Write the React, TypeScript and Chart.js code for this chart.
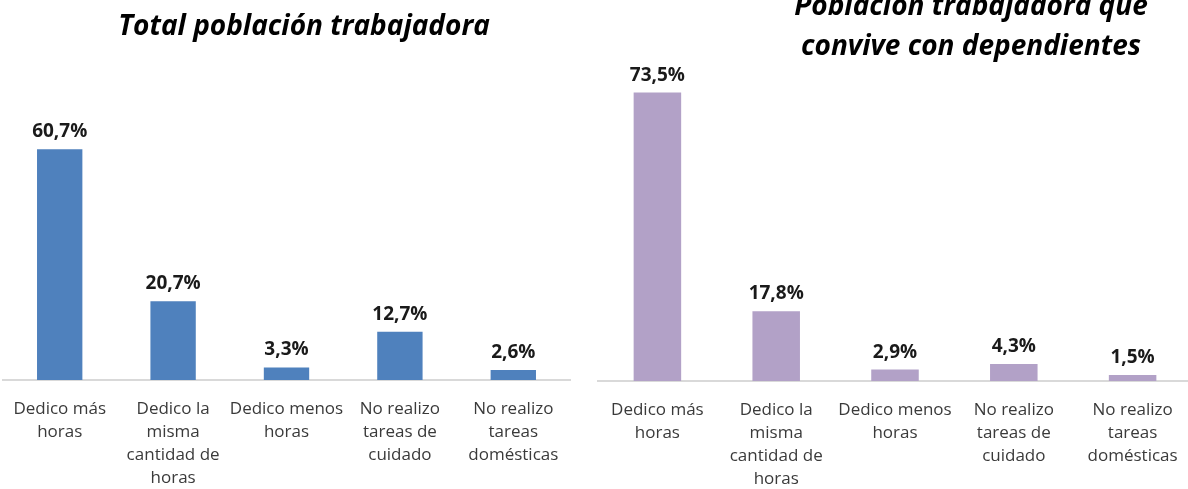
import React, { useEffect, useRef } from "react";
import { Chart, registerables } from "chart.js";

Chart.register(...registerables);

const categories: string[][] = [
  ["Dedico más", "horas"],
  ["Dedico la", "misma", "cantidad de", "horas"],
  ["Dedico menos", "horas"],
  ["No realizo", "tareas de", "cuidado"],
  ["No realizo", "tareas", "domésticas"],
];
const totalValues = [60.7, 20.7, 3.3, 12.7, 2.6];
const dependientesValues = [73.5, 17.8, 2.9, 4.3, 1.5];
const leftTitle = ["Total población trabajadora"];
const rightTitle = ["Población trabajadora que", "convive con dependientes"];
const leftColor = "#4f81bd";
const rightColor = "#b2a1c7";

const FONT = "'Open Sans', 'Liberation Sans', sans-serif";

const fmt = (v: number) => v.toFixed(1).replace(".", ",") + "%";

const valueLabels = {
  id: "valueLabels",
  afterDatasetsDraw(chart: any) {
    const ctx = chart.ctx;
    const meta = chart.getDatasetMeta(0);
    const data = chart.data.datasets[0].data as number[];
    ctx.save();
    ctx.font = `bold 19px ${FONT}`;
    ctx.fillStyle = "#1a1a1a";
    ctx.textAlign = "center";
    ctx.textBaseline = "alphabetic";
    meta.data.forEach((bar: any, i: number) => {
      ctx.fillText(fmt(data[i]), bar.x, bar.y - 12);
    });
    ctx.restore();
  },
};

const customTitle = {
  id: "customTitle",
  afterDraw(chart: any, _args: any, opts: any) {
    if (!opts || !opts.lines) return;
    const ctx = chart.ctx;
    ctx.save();
    ctx.font = `italic bold ${opts.size}px ${FONT}`;
    ctx.fillStyle = "#000000";
    ctx.textAlign = "center";
    ctx.textBaseline = "alphabetic";
    (opts.lines as string[]).forEach((line, i) => {
      ctx.fillText(line, opts.x, opts.y + i * opts.lineHeight);
    });
    ctx.restore();
  },
};

type PanelProps = {
  values: number[];
  color: string;
  title: string[];
  left: number;
  width: number;
  padLeft: number;
  padRight: number;
  padTop: number;
  axisHeight: number;
  titleX: number;
  titleY: number;
  max: number;
};

function Panel(p: PanelProps) {
  const ref = useRef<HTMLCanvasElement | null>(null);
  useEffect(() => {
    if (!ref.current) return;
    const chart = new Chart(ref.current, {
      type: "bar",
      data: {
        labels: categories,
        datasets: [
          {
            data: p.values,
            backgroundColor: p.color,
            borderWidth: 0,
            barPercentage: 0.4,
            categoryPercentage: 1.0,
          },
        ],
      },
      options: {
        animation: false,
        responsive: false,
        maintainAspectRatio: false,
        layout: { padding: { top: p.padTop, left: p.padLeft, right: p.padRight, bottom: 0 } },
        plugins: {
          legend: { display: false },
          tooltip: { enabled: false },
          title: { display: false },
          customTitle: { lines: p.title, x: p.titleX, y: p.titleY, size: 28, lineHeight: 40 },
        } as any,
        scales: {
          x: {
            grid: { display: false, drawTicks: false },
            border: { display: true, color: "#d9d9d9", width: 2 },
            ticks: {
              color: "#3a3a3a",
              font: { family: FONT, size: 17, lineHeight: 1.35 },
              padding: 18,
              maxRotation: 0,
              autoSkip: false,
            },
            afterFit: (s: any) => {
              s.height = p.axisHeight;
              s.paddingLeft = 0;
              s.paddingRight = 0;
            },
          },
          y: { display: false, min: 0, max: p.max },
        },
      },
      plugins: [valueLabels, customTitle],
    });
    return () => chart.destroy();
  }, []);
  return (
    <div style={{ position: "absolute", left: p.left, top: 0, width: p.width, height: 489 }}>
      <canvas ref={ref} width={p.width} height={489} style={{ width: p.width, height: 489 }} />
    </div>
  );
}

export default function App() {
  return (
    <div
      style={{
        position: "absolute",
        left: 0,
        top: 0,
        width: 1188,
        height: 489,
        overflow: "hidden",
        background: "#ffffff",
      }}
    >
      <Panel
        values={totalValues}
        color={leftColor}
        title={leftTitle}
        left={0}
        width={590}
        padLeft={3}
        padRight={20}
        padTop={76}
        axisHeight={109}
        titleX={304}
        titleY={35}
        max={80}
      />
      <Panel
        values={dependientesValues}
        color={rightColor}
        title={rightTitle}
        left={590}
        width={610}
        padLeft={8}
        padRight={8}
        padTop={67}
        axisHeight={108}
        titleX={381}
        titleY={15}
        max={80}
      />
    </div>
  );
}
